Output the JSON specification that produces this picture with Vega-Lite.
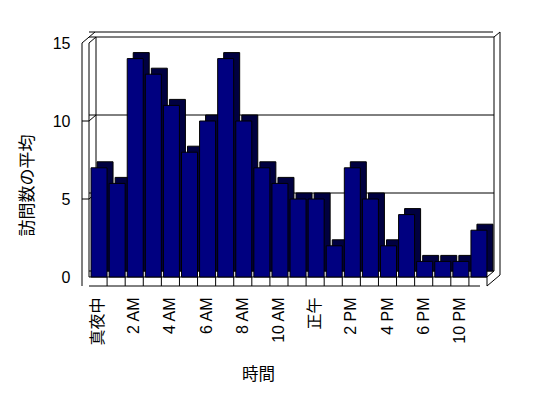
{
  "$schema": "https://vega.github.io/schema/vega-lite/v6.json",
  "width": 398,
  "height": 234,
  "autosize": "none",
  "padding": {"left": 89, "top": 43, "right": 61, "bottom": 121},
  "background": "white",
  "config": {"view": {"stroke": null}},
  "datasets": {
    "hours": [
      {"hour": "真夜中", "v": 7}, {"hour": "1 AM", "v": 6}, {"hour": "2 AM", "v": 14},
      {"hour": "3 AM", "v": 13}, {"hour": "4 AM", "v": 11}, {"hour": "5 AM", "v": 8},
      {"hour": "6 AM", "v": 10}, {"hour": "7 AM", "v": 14}, {"hour": "8 AM", "v": 10},
      {"hour": "9 AM", "v": 7}, {"hour": "10 AM", "v": 6}, {"hour": "11 AM", "v": 5},
      {"hour": "正午", "v": 5}, {"hour": "1 PM", "v": 2}, {"hour": "2 PM", "v": 7},
      {"hour": "3 PM", "v": 5}, {"hour": "4 PM", "v": 2}, {"hour": "5 PM", "v": 4},
      {"hour": "6 PM", "v": 1}, {"hour": "7 PM", "v": 1}, {"hour": "10 PM", "v": 1},
      {"hour": "11 PM", "v": 3}
    ],
    "grid": [{"g": 0}, {"g": 5}, {"g": 10}, {"g": 15}],
    "ticks": [{"g": 5}, {"g": 10}],
    "one": [{"k": 1}]
  },
  "layer": [
    {
      "data": {"name": "grid"},
      "mark": {"type": "rule", "color": "black", "strokeWidth": 1, "xOffset": 7, "x2Offset": 7, "yOffset": -6},
      "encoding": {"y": {"field": "g", "type": "quantitative"}}
    },
    {
      "data": {"name": "one"},
      "mark": {"type": "rule", "color": "black", "strokeWidth": 1, "xOffset": 7, "yOffset": -6, "y2Offset": -6},
      "encoding": {
        "x": {"datum": "真夜中", "type": "nominal", "bandPosition": 0},
        "y": {"datum": 0, "type": "quantitative"},
        "y2": {"datum": 15}
      }
    },
    {
      "data": {"name": "one"},
      "mark": {"type": "rule", "color": "black", "strokeWidth": 1, "xOffset": 7, "yOffset": -6, "y2Offset": -6},
      "encoding": {
        "x": {"datum": "11 PM", "type": "nominal", "bandPosition": 1},
        "y": {"datum": 0, "type": "quantitative"},
        "y2": {"datum": 15}
      }
    },
    {
      "data": {"name": "one"},
      "mark": {"type": "rule", "color": "black", "strokeWidth": 1, "xOffset": 6, "x2Offset": 13, "yOffset": -11},
      "encoding": {"y": {"datum": 15, "type": "quantitative"}}
    },
    {
      "data": {"name": "one"},
      "mark": {"type": "rule", "color": "black", "strokeWidth": 1, "xOffset": 13, "yOffset": -11, "y2Offset": -2},
      "encoding": {
        "x": {"datum": "11 PM", "type": "nominal", "bandPosition": 1},
        "y": {"datum": 15, "type": "quantitative"},
        "y2": {"datum": 0}
      }
    },
    {
      "data": {"name": "one"},
      "mark": {"type": "rule", "color": "black", "strokeWidth": 1, "xOffset": -7, "y2Offset": 9},
      "encoding": {
        "x": {"datum": "真夜中", "type": "nominal", "bandPosition": 0},
        "y": {"datum": 15, "type": "quantitative"},
        "y2": {"datum": 0}
      }
    },
    {
      "data": {"name": "one"},
      "mark": {"type": "rule", "color": "black", "strokeWidth": 1},
      "encoding": {
        "x": {"datum": "真夜中", "type": "nominal", "bandPosition": 0},
        "y": {"datum": 15, "type": "quantitative"},
        "y2": {"datum": 0}
      }
    },
    {
      "data": {"name": "one"},
      "mark": {"type": "rule", "color": "black", "strokeWidth": 1, "xOffset": -7, "x2Offset": 6, "y2Offset": -11},
      "encoding": {
        "x": {"datum": "真夜中", "type": "nominal", "bandPosition": 0},
        "x2": {"datum": "真夜中", "bandPosition": 0},
        "y": {"datum": 15, "type": "quantitative"},
        "y2": {"datum": 15}
      }
    },
    {
      "data": {"name": "one"},
      "mark": {"type": "rule", "color": "black", "strokeWidth": 1, "x2Offset": 7, "y2Offset": -6},
      "encoding": {
        "x": {"datum": "真夜中", "type": "nominal", "bandPosition": 0},
        "x2": {"datum": "真夜中", "bandPosition": 0},
        "y": {"datum": 15, "type": "quantitative"},
        "y2": {"datum": 15}
      }
    },
    {
      "data": {"name": "ticks"},
      "mark": {"type": "rule", "color": "black", "strokeWidth": 1, "xOffset": -7},
      "encoding": {
        "x": {"datum": "真夜中", "type": "nominal", "bandPosition": 0},
        "x2": {"datum": "真夜中", "bandPosition": 0},
        "y": {"field": "g", "type": "quantitative"}
      }
    },
    {
      "data": {"name": "ticks"},
      "mark": {"type": "rule", "color": "black", "strokeWidth": 1, "x2Offset": 7, "y2Offset": -6},
      "encoding": {
        "x": {"datum": "真夜中", "type": "nominal", "bandPosition": 0},
        "x2": {"datum": "真夜中", "bandPosition": 0},
        "y": {"field": "g", "type": "quantitative"},
        "y2": {"field": "g"}
      }
    },
    {
      "data": {"name": "one"},
      "mark": {"type": "rule", "color": "black", "strokeWidth": 1},
      "encoding": {"y": {"datum": 0, "type": "quantitative"}}
    },
    {
      "data": {"name": "one"},
      "mark": {"type": "rule", "color": "black", "strokeWidth": 1, "xOffset": -7, "yOffset": 9},
      "encoding": {"y": {"datum": 0, "type": "quantitative"}}
    },
    {
      "data": {"name": "hours"},
      "mark": {"type": "rule", "color": "black", "strokeWidth": 1, "y2Offset": 9},
      "encoding": {
        "x": {"field": "hour", "type": "nominal", "bandPosition": 1},
        "y": {"datum": 0, "type": "quantitative"},
        "y2": {"datum": 0}
      }
    },
    {
      "data": {"name": "one"},
      "mark": {"type": "rule", "color": "black", "strokeWidth": 1, "x2Offset": 13, "yOffset": 9, "y2Offset": -2},
      "encoding": {
        "x": {"datum": "11 PM", "type": "nominal", "bandPosition": 1},
        "x2": {"datum": "11 PM", "bandPosition": 1},
        "y": {"datum": 0, "type": "quantitative"},
        "y2": {"datum": 0}
      }
    },
    {
      "data": {"name": "one"},
      "mark": {"type": "rule", "color": "black", "strokeWidth": 1, "x2Offset": 7, "y2Offset": -6},
      "encoding": {
        "x": {"datum": "11 PM", "type": "nominal", "bandPosition": 1},
        "x2": {"datum": "11 PM", "bandPosition": 1},
        "y": {"datum": 0, "type": "quantitative"},
        "y2": {"datum": 0}
      }
    },
    {
      "data": {"name": "one"},
      "mark": {"type": "rule", "color": "black", "strokeWidth": 1, "xOffset": 7, "x2Offset": 13, "yOffset": -6, "y2Offset": -11},
      "encoding": {
        "x": {"datum": "11 PM", "type": "nominal", "bandPosition": 1},
        "x2": {"datum": "11 PM", "bandPosition": 1},
        "y": {"datum": 15, "type": "quantitative"},
        "y2": {"datum": 15}
      }
    },
    {
      "data": {"name": "hours"},
      "mark": {"type": "bar", "fill": "#000040", "stroke": "black", "strokeWidth": 1, "width": {"band": 0.885}, "xOffset": 7, "yOffset": -6, "y2Offset": -6},
      "encoding": {
        "x": {"field": "hour", "type": "nominal"},
        "y": {"field": "v", "type": "quantitative"}
      }
    },
    {
      "data": {"name": "hours"},
      "mark": {"type": "bar", "fill": "#000080", "stroke": "black", "strokeWidth": 1, "width": {"band": 0.885}, "xOffset": 1},
      "encoding": {
        "x": {
          "field": "hour",
          "type": "nominal",
          "sort": null,
          "scale": {
            "type": "band",
            "paddingInner": 0,
            "paddingOuter": 0,
            "domain": ["真夜中","1 AM","2 AM","3 AM","4 AM","5 AM","6 AM","7 AM","8 AM","9 AM","10 AM","11 AM","正午","1 PM","2 PM","3 PM","4 PM","5 PM","6 PM","7 PM","10 PM","11 PM"]
          },
          "axis": {
            "values": ["真夜中","2 AM","4 AM","6 AM","8 AM","10 AM","正午","2 PM","4 PM","6 PM","10 PM"],
            "labelAngle": -90,
            "labelFont": "Liberation Sans, Noto Sans CJK JP",
            "labelFontSize": 16,
            "labelColor": "black",
            "labelPadding": 20,
            "domain": false,
            "ticks": false,
            "grid": false,
            "title": "時間",
            "titleFont": "Noto Sans CJK JP",
            "titleFontSize": 16.5,
            "titleFontWeight": "normal",
            "titleColor": "black",
            "titleX": 169,
            "titleY": 89,
            "titleBaseline": "top"
          }
        },
        "y": {
          "field": "v",
          "type": "quantitative",
          "scale": {"domain": [0, 15], "nice": false, "zero": true},
          "axis": {
            "values": [0, 5, 10, 15],
            "labelFont": "Liberation Sans",
            "labelFontSize": 16,
            "labelColor": "black",
            "labelPadding": 19,
            "domain": false,
            "ticks": false,
            "grid": false,
            "title": "訪問数の平均",
            "titleFont": "Noto Sans CJK JP",
            "titleFontSize": 17,
            "titleFontWeight": "normal",
            "titleColor": "black",
            "titleX": -62,
            "titleY": 142,
            "titleBaseline": "middle"
          }
        }
      }
    }
  ]
}
